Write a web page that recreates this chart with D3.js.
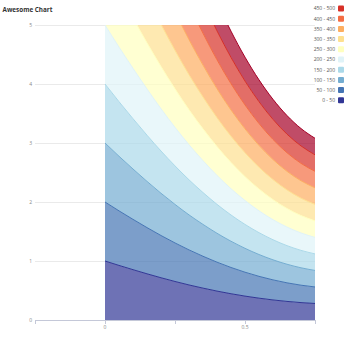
<!DOCTYPE html>
<html>
<head>
<meta charset="utf-8">
<script src="https://cdn.jsdelivr.net/npm/d3@7"></script>
<style>
  html, body { margin: 0; padding: 0; background: #fff; }
  svg { display: block; font-family: "Open Sans", "DejaVu Sans", sans-serif; }
</style>
</head>
<body>
<svg id="chart" width="350" height="350"></svg>
<script>
// ---- data ----
const chartTitle = "Awesome Chart";
const xValues = [0, 0.05, 0.1, 0.15, 0.2, 0.25, 0.3, 0.35, 0.4, 0.45, 0.5, 0.55, 0.6, 0.65, 0.7, 0.75];
// every band has (visually) the same thickness at each x
const bandValues = [1.00, 0.925, 0.853, 0.783, 0.716, 0.653, 0.594, 0.540, 0.490, 0.445, 0.405, 0.370, 0.340, 0.315, 0.295, 0.280];
const seriesNames = ["0 - 50", "50 - 100", "100 - 150", "150 - 200", "200 - 250",
                     "250 - 300", "300 - 350", "350 - 400", "400 - 450", "450 - 500", "500 - 550"];
const seriesColors = ["#313695", "#4575b4", "#74add1", "#abd9e9", "#e0f3f8",
                      "#ffffbf", "#fee090", "#fdae61", "#f46d43", "#d73027", "#a50026"];
const legendNames = ["450 - 500", "400 - 450", "350 - 400", "300 - 350", "250 - 300",
                     "200 - 250", "150 - 200", "100 - 150", "50 - 100", "0 - 50"];
const yTicks = [0, 1, 2, 3, 4, 5];
const xTicks = [-0.25, 0, 0.25, 0.5, 0.75];
const xTickLabels = {"0": "0", "0.5": "0.5"};

// ---- layout ----
const svg = d3.select("#chart");
const plot = {left: 35, right: 315, top: 25, bottom: 320};

const x = d3.scaleLinear().domain([-0.25, 0.75]).range([plot.left, plot.right]);
const y = d3.scaleLinear().domain([0, 5]).range([plot.bottom, plot.top]);

// title
svg.append("text")
  .attr("x", 2.5).attr("y", 11.5)
  .attr("font-size", 7.8).attr("font-weight", 700)
  .attr("fill", "#333")
  .attr("textLength", 50).attr("lengthAdjust", "spacingAndGlyphs")
  .text(chartTitle);

// gridlines
svg.append("g").selectAll("line").data(yTicks.filter(d => d > 0)).join("line")
  .attr("x1", plot.left).attr("x2", plot.right)
  .attr("y1", d => y(d)).attr("y2", d => y(d))
  .attr("stroke", "#eaeaea").attr("stroke-width", 1).attr("shape-rendering", "crispEdges");

// y labels
svg.append("g").selectAll("text").data(yTicks).join("text")
  .attr("x", 32).attr("y", d => y(d) + 1.8)
  .attr("text-anchor", "end").attr("font-size", 5).attr("fill", "#888")
  .text(d => d);

// stacked areas
const rows = xValues.map((xv, i) => {
  const r = {x: xv};
  seriesNames.forEach(n => r[n] = bandValues[i]);
  return r;
});
const stacked = d3.stack().keys(seriesNames)(rows);

svg.append("defs").append("clipPath").attr("id", "clip")
  .append("rect").attr("x", plot.left).attr("y", plot.top)
  .attr("width", plot.right - plot.left).attr("height", plot.bottom - plot.top);

const area = d3.area().curve(d3.curveMonotoneX)
  .x(d => x(d.data.x)).y0(d => y(d[0])).y1(d => y(d[1]));
const topLine = d3.line().curve(d3.curveMonotoneX)
  .x(d => x(d.data.x)).y(d => y(d[1]));

const g = svg.append("g").attr("clip-path", "url(#clip)");
stacked.forEach((s, i) => {
  g.append("path").attr("d", area(s))
    .attr("fill", seriesColors[i]).attr("fill-opacity", 0.7).attr("stroke", "none");
});
stacked.forEach((s, i) => {
  g.append("path").attr("d", topLine(s))
    .attr("fill", "none").attr("stroke", seriesColors[i]).attr("stroke-width", 1);
});

// x axis
svg.append("line")
  .attr("x1", plot.left).attr("x2", plot.right)
  .attr("y1", plot.bottom + 0.5).attr("y2", plot.bottom + 0.5)
  .attr("stroke", "#c4c8d8").attr("stroke-width", 1);
svg.append("g").selectAll("line").data(xTicks).join("line")
  .attr("x1", d => Math.round(x(d)) + 0.5).attr("x2", d => Math.round(x(d)) + 0.5)
  .attr("y1", plot.bottom).attr("y2", plot.bottom + 4)
  .attr("stroke", "#c4c8d8").attr("stroke-width", 1);
svg.append("g").selectAll("text").data(xTicks.filter(d => xTickLabels[String(d)] !== undefined)).join("text")
  .attr("x", d => x(d)).attr("y", plot.bottom + 8.5)
  .attr("text-anchor", "middle").attr("font-size", 5).attr("fill", "#888")
  .text(d => xTickLabels[String(d)]);

// legend
const legend = svg.append("g");
legendNames.forEach((name, i) => {
  const ly = 8.5 + i * 10.2;
  const color = seriesColors[seriesNames.indexOf(name)];
  legend.append("rect")
    .attr("x", 338).attr("y", ly - 3).attr("width", 6).attr("height", 6)
    .attr("rx", 1).attr("fill", color);
  legend.append("text")
    .attr("x", 335).attr("y", ly + 1.8)
    .attr("text-anchor", "end").attr("font-size", 5).attr("fill", "#555")
    .text(name);
});
</script>
</body>
</html>
